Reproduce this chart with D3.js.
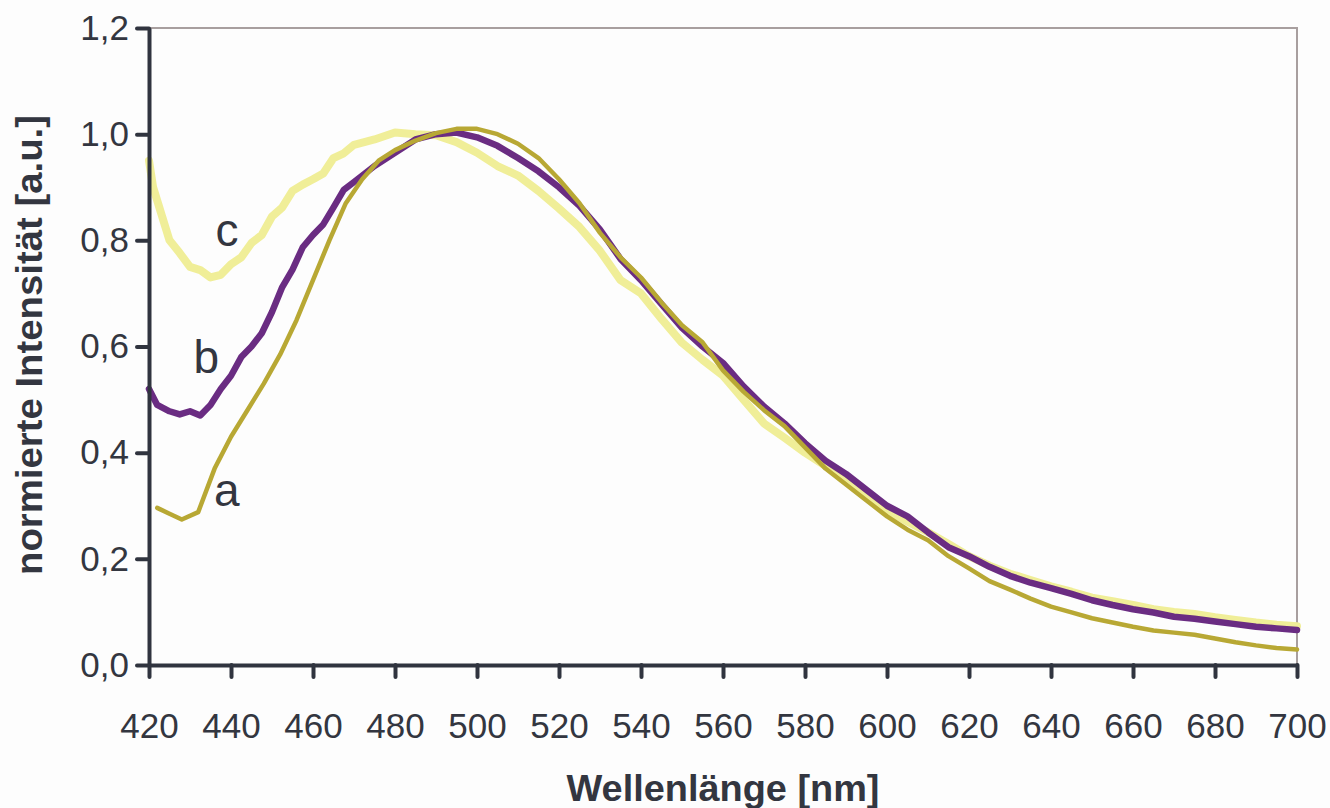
<!DOCTYPE html>
<html>
<head>
<meta charset="utf-8">
<script src="https://cdn.jsdelivr.net/npm/d3@7"></script>
<style>
  html, body { margin: 0; padding: 0; background: #fdfdfd; }
  svg { display: block; }
</style>
</head>
<body>
<svg id="chart" width="1330" height="808"></svg>
<script>
//
// Data
//

// Curve a (olive, smooth)
const waveA = [422, 425, 428, 432, 436, 440, 444, 448, 452, 456, 460, 464, 468, 472, 476, 480,
  485, 490, 495, 500, 505, 510, 515, 520, 525, 530, 535, 540, 545, 550, 555, 560, 565, 570,
  575, 580, 585, 590, 595, 600, 605, 610, 615, 620, 625, 630, 635, 640, 645, 650, 655, 660,
  665, 670, 675, 680, 685, 690, 695, 700];
const intensityA = [0.296, 0.285, 0.274, 0.288, 0.37, 0.43, 0.48, 0.53, 0.585, 0.65, 0.725, 0.80,
  0.87, 0.915, 0.95, 0.97, 0.988, 1.002, 1.01, 1.01, 1.0, 0.982, 0.955, 0.915, 0.87, 0.814,
  0.768, 0.73, 0.683, 0.64, 0.608, 0.555, 0.515, 0.48, 0.45, 0.41, 0.37, 0.34, 0.31, 0.28,
  0.255, 0.235, 0.205, 0.182, 0.158, 0.142, 0.125, 0.11, 0.099, 0.088, 0.08, 0.072, 0.065,
  0.061, 0.057, 0.05, 0.043, 0.037, 0.032, 0.029];

// Curve b (purple, noisy)
const waveB = [420, 422, 425, 427.5, 430, 432.5, 435, 437.5, 440, 442.5, 445, 447.5, 450, 452.5,
  455, 457.5, 460, 462.5, 465, 467.5, 470, 472.5, 475, 480, 485, 490, 495, 500, 505, 510, 515,
  520, 525, 530, 535, 540, 545, 550, 555, 560, 565, 570, 575, 580, 585, 590, 595, 600, 605,
  610, 615, 620, 625, 630, 635, 640, 645, 650, 655, 660, 665, 670, 675, 680, 685, 690, 695, 700];
const intensityB = [0.52, 0.49, 0.478, 0.472, 0.478, 0.47, 0.49, 0.52, 0.545, 0.58, 0.60, 0.625,
  0.665, 0.712, 0.745, 0.787, 0.81, 0.83, 0.862, 0.895, 0.91, 0.925, 0.94, 0.965, 0.99, 1.0,
  1.003, 0.994, 0.978, 0.955, 0.93, 0.9, 0.865, 0.82, 0.765, 0.725, 0.68, 0.635, 0.6, 0.569,
  0.525, 0.487, 0.455, 0.418, 0.385, 0.36, 0.33, 0.3, 0.28, 0.25, 0.222, 0.205, 0.185, 0.168,
  0.155, 0.145, 0.134, 0.122, 0.113, 0.105, 0.099, 0.091, 0.087, 0.082, 0.077, 0.072, 0.069,
  0.066];

// Curve c (pale yellow, noisy)
const waveC = [420, 421, 425, 427.5, 430, 432.5, 435, 437.5, 440, 442.5, 445, 447.5, 450, 452.5,
  455, 457.5, 460, 462.5, 465, 467.5, 470, 475, 480, 485, 490, 495, 500, 505, 510, 515, 520,
  525, 530, 535, 540, 545, 550, 555, 560, 565, 570, 575, 580, 585, 590, 595, 600, 605, 610,
  615, 620, 625, 630, 635, 640, 645, 650, 655, 660, 665, 670, 675, 680, 685, 690, 695, 700];
const intensityC = [0.95, 0.90, 0.80, 0.776, 0.75, 0.744, 0.73, 0.735, 0.755, 0.768, 0.795, 0.81,
  0.845, 0.862, 0.893, 0.905, 0.915, 0.926, 0.955, 0.964, 0.98, 0.99, 1.003, 1.0, 0.998, 0.985,
  0.965, 0.94, 0.922, 0.893, 0.86, 0.825, 0.78, 0.725, 0.70, 0.652, 0.607, 0.575, 0.545, 0.50,
  0.455, 0.428, 0.40, 0.375, 0.348, 0.32, 0.292, 0.27, 0.25, 0.228, 0.205, 0.187, 0.172, 0.16,
  0.148, 0.138, 0.127, 0.12, 0.113, 0.105, 0.1, 0.096, 0.09, 0.085, 0.08, 0.076, 0.073];

// Ticks
const xTicks = [420, 440, 460, 480, 500, 520, 540, 560, 580, 600, 620, 640, 660, 680, 700];
const yTicks = [0, 0.2, 0.4, 0.6, 0.8, 1.0, 1.2];

// Curve labels: [name, wavelength, intensity]
const curveLabels = [['c', 439, 0.79], ['b', 434, 0.55], ['a', 439, 0.30]];

//
// Configuration
//

const axisColor = '#30343f';
const textColor = '#333640';
const frameColor = '#a89f9f';
const colorA = '#b8a834';
const colorB = '#6a2c82';
const colorC = '#f0ee98';

const margin = {left: 149, right: 33, top: 28, bottom: 143};
const width = 1330, height = 808;

const svg = d3.select('#chart');

const x = d3.scaleLinear().domain([420, 700]).range([margin.left, width - margin.right]);
const y = d3.scaleLinear().domain([0, 1.2]).range([height - margin.bottom, margin.top]);

const fmt = d => d3.format('.1f')(d).replace('.', ',');

// Frame: top and right in grey
svg.append('path')
  .attr('d', `M${x(420)},${y(1.2)}H${x(700)}V${y(0)}`)
  .attr('fill', 'none')
  .attr('stroke', frameColor)
  .attr('stroke-width', 2);

// Lines
const line = d3.line().x(d => x(d[0])).y(d => y(d[1]));

function drawCurve(waves, values, color, w) {
  svg.append('path')
    .datum(waves.map((wl, i) => [wl, values[i]]))
    .attr('d', line)
    .attr('fill', 'none')
    .attr('stroke', color)
    .attr('stroke-width', w)
    .attr('stroke-linejoin', 'round')
    .attr('stroke-linecap', 'round');
}

drawCurve(waveC, intensityC, colorC, 8);
drawCurve(waveB, intensityB, colorB, 6.5);
drawCurve(waveA, intensityA, colorA, 4.5);

// Axes
const xAxis = svg.append('g')
  .attr('transform', `translate(0,${y(0)})`)
  .call(d3.axisBottom(x).tickValues(xTicks).tickSize(12).tickSizeOuter(0).tickPadding(36));

const yAxis = svg.append('g')
  .attr('transform', `translate(${x(420)},0)`)
  .call(d3.axisLeft(y).tickValues(yTicks).tickFormat(fmt).tickSize(12).tickSizeOuter(0).tickPadding(8));

[xAxis, yAxis].forEach(g => {
  g.select('.domain').attr('stroke', axisColor).attr('stroke-width', 4);
  g.selectAll('.tick line').attr('stroke', axisColor).attr('stroke-width', 4).attr('stroke-linecap', 'round');
  g.selectAll('.tick text')
    .attr('fill', textColor)
    .attr('font-family', 'Liberation Sans, Arial, sans-serif')
    .attr('font-size', 35);
});

// Axis titles
svg.append('text')
  .attr('x', (x(420) + x(700)) / 2)
  .attr('y', 801)
  .attr('text-anchor', 'middle')
  .attr('font-family', 'Liberation Sans, Arial, sans-serif')
  .attr('font-weight', 'bold')
  .attr('font-size', 37)
  .attr('fill', textColor)
  .attr('textLength', 313)
  .attr('lengthAdjust', 'spacingAndGlyphs')
  .text('Wellenlänge [nm]');

svg.append('text')
  .attr('transform', 'translate(42,345) rotate(-90)')
  .attr('text-anchor', 'middle')
  .attr('font-family', 'Liberation Sans, Arial, sans-serif')
  .attr('font-weight', 'bold')
  .attr('font-size', 37)
  .attr('fill', textColor)
  .attr('textLength', 460)
  .attr('lengthAdjust', 'spacingAndGlyphs')
  .text('normierte Intensität [a.u.]');

// Curve labels
svg.selectAll('.curve-label')
  .data(curveLabels)
  .join('text')
  .attr('class', 'curve-label')
  .attr('x', d => x(d[1]))
  .attr('y', d => y(d[2]))
  .attr('text-anchor', 'middle')
  .attr('font-family', 'Liberation Sans, Arial, sans-serif')
  .attr('font-size', 46)
  .attr('fill', textColor)
  .text(d => d[0]);
</script>
</body>
</html>
